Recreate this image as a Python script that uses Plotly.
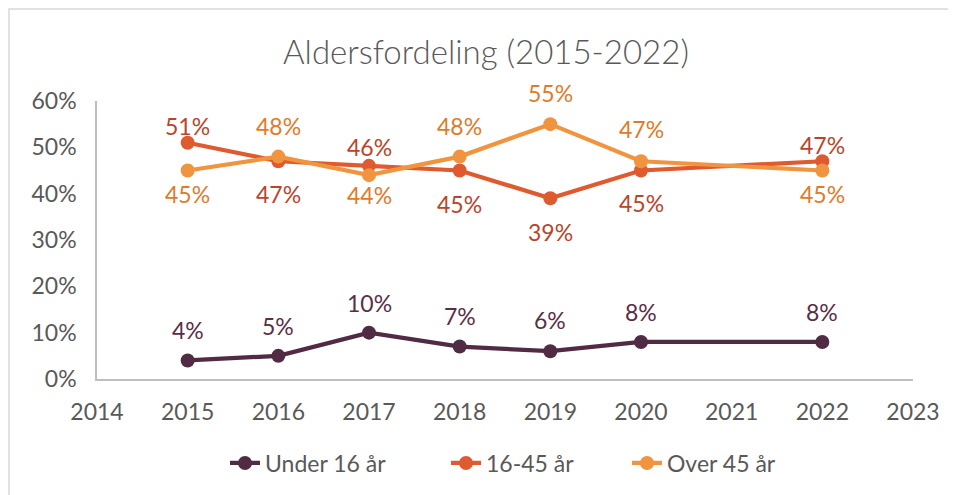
import plotly.graph_objects as go

years = [2015, 2016, 2017, 2018, 2019, 2020, 2022]
under16 = [0.04, 0.05, 0.10, 0.07, 0.06, 0.08, 0.08]
mid = [0.51, 0.47, 0.46, 0.45, 0.39, 0.45, 0.47]
over45 = [0.45, 0.48, 0.44, 0.48, 0.55, 0.47, 0.45]
names = ["Under 16 år", "16-45 år", "Over 45 år"]
x_ticks = list(range(2014, 2024))
y_ticks = [0, 0.1, 0.2, 0.3, 0.4, 0.5, 0.6]

# label offsets in px (style only; positive = above the point)
under_shift = [30, 30, 30, 31, 31, 30, 30]
mid_shift = [17, -33, 19, -33, -34, -32, 16]
over_shift = [-23, 31, -20, 31, 31, 32, -23]

FONT = "Lato"
L, T, R, B = 89, 93, 905, 371
W, H = R - L, B - T

fig = go.Figure()
annotations = []

def add(y, name, color, lcolor, shifts, legend, lx):
    fig.add_trace(go.Scatter(
        x=years, y=y, name=name, mode="lines+markers",
        line=dict(color=color, width=4.2),
        marker=dict(color=color, size=14),
        legend=legend, cliponaxis=False, showlegend=True,
    ))
    for xv, yv, s in zip(years, y, shifts):
        annotations.append(dict(
            x=xv, y=yv, xref="x", yref="y", text=f"{round(yv*100)}%",
            showarrow=False, yshift=s, xanchor="center", yanchor="middle",
            font=dict(family=FONT, size=23, color=lcolor),
        ))
    fig.update_layout({legend: dict(
        orientation="h", x=lx, xanchor="left", y=(B - 455) / H, yanchor="middle",
        font=dict(family=FONT, size=23, color="#595959"), bgcolor="rgba(0,0,0,0)")})

add(under16, names[0], "#512A43", "#5A2E48", under_shift, "legend", (217 - L) / W)
add(mid, names[1], "#E05A30", "#B9452A", mid_shift, "legend2", (438 - L) / W)
add(over45, names[2], "#F0943F", "#E07B2A", over_shift, "legend3", (619 - L) / W)

fig.update_layout(
    width=956, height=495, showlegend=True,
    margin=dict(l=L, r=956 - R, t=T, b=495 - B),
    paper_bgcolor="white", plot_bgcolor="white",
    title=dict(text="Aldersfordeling (2015-2022)", x=0.5, xanchor="center",
               y=1 - 44 / 495, yanchor="middle",
               font=dict(family=FONT, size=33, color="#595959", weight=300)),
    font=dict(family=FONT, color="#595959"),
    xaxis=dict(range=[2014, 2023], tickvals=x_ticks, showgrid=False, zeroline=False,
               showline=True, linecolor="#BFBFBF", linewidth=1.5,
               tickfont=dict(size=23, color="#595959"), ticks="",
               ticklabelstandoff=12),
    yaxis=dict(range=[0, 0.6], tickvals=y_ticks, tickformat=".0%", showgrid=False,
               zeroline=False, showline=True, linecolor="#BFBFBF", linewidth=1.5,
               tickfont=dict(size=23, color="#595959"), ticks="",
               ticklabelstandoff=14),
    annotations=annotations,
    shapes=[dict(type="rect", xref="paper", yref="paper",
                 x0=(1 - L) / W, x1=(1000 - L) / W, y0=(B - 520) / H, y1=(B - 1) / H,
                 line=dict(color="#D9D9D9", width=1.5), layer="below")],
)
fig.write_html("out.html")
